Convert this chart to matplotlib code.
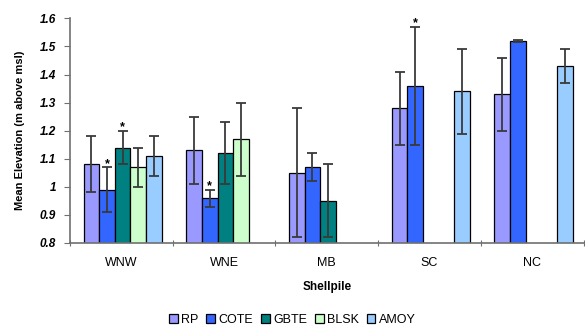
import matplotlib.pyplot as plt
import numpy as np

plt.rcParams['font.family'] = ['Liberation Sans', 'DejaVu Sans']

shellpiles = ["WNW", "WNE", "MB", "SC", "NC"]
species = ["RP", "COTE", "GBTE", "BLSK", "AMOY"]
colors = ["#9999FF", "#3366FF", "#008080", "#CCFFCC", "#99CCFF"]

nan = np.nan
# mean elevation per species, one value per shellpile
means = {
    "RP":   [1.08, 1.13, 1.05, 1.28, 1.33],
    "COTE": [0.99, 0.96, 1.07, 1.36, 1.52],
    "GBTE": [1.14, 1.12, 0.95, nan, nan],
    "BLSK": [1.07, 1.17, nan, nan, nan],
    "AMOY": [1.11, nan, nan, 1.34, 1.43],
}
errors = {
    "RP":   [0.10, 0.12, 0.23, 0.13, 0.13],
    "COTE": [0.08, 0.03, 0.05, 0.21, 0.003],
    "GBTE": [0.06, 0.11, 0.13, nan, nan],
    "BLSK": [0.07, 0.13, nan, nan, nan],
    "AMOY": [0.07, nan, nan, 0.15, 0.06],
}
# significant differences marked with an asterisk: (shellpile index, species)
stars = [(0, "COTE"), (0, "GBTE"), (1, "COTE"), (3, "COTE")]

fig = plt.figure(figsize=(5.85, 3.29), dpi=100)
ax = fig.add_axes([0.1197, 0.2614, 0.878, 0.6826])

x = np.arange(len(shellpiles))
width = 0.152
for i, sp in enumerate(species):
    pos = x + (i - 2) * width + 0.012
    ax.bar(pos, means[sp], width, color=colors[i], edgecolor="black",
           linewidth=0.9, label=sp, zorder=2)
    ax.errorbar(pos, means[sp], yerr=errors[sp], fmt="none", ecolor="#3a3a3a",
                elinewidth=1.3, capsize=3.5, capthick=1.3, zorder=3)

for k, sp in stars:
    i = species.index(sp)
    top = means[sp][k] + errors[sp][k]
    ax.annotate("*", (x[k] + (i - 2) * width + 0.012, top), xytext=(0, -2),
                textcoords="offset points", ha="center", va="bottom",
                fontsize=9, fontweight="bold")

ax.set_xlim(-0.5, len(shellpiles) - 0.5)
ax.set_ylim(0.8, 1.6)
ax.set_yticks(np.arange(0.8, 1.61, 0.1))
ax.set_yticklabels(["0.8", "0.9", "1", "1.1", "1.2", "1.3", "1.4", "1.5", "1.6"],
                   fontsize=8.5, fontweight="bold", fontstyle="italic")
ax.set_xticks(np.arange(-0.5, len(shellpiles), 1.0))
ax.set_xticklabels([])
ax.set_xticks(x, minor=True)
ax.set_xticklabels(shellpiles, minor=True, fontsize=9)
ax.tick_params(axis="x", which="minor", length=0, pad=10)
ax.tick_params(axis="x", which="major", length=5, color="#707070", direction="inout")
ax.tick_params(axis="y", length=4, color="#707070", direction="out", pad=6)

for s in ["top", "right"]:
    ax.spines[s].set_visible(False)
for s in ["left", "bottom"]:
    ax.spines[s].set_color("#707070")
    ax.spines[s].set_linewidth(1.2)

ax.set_ylabel("Mean Elevation (m above msl)", fontsize=8, fontweight="bold")
ax.yaxis.set_label_coords(-0.087, 0.5)
ax.set_xlabel("Shellpile", fontsize=8.5, fontweight="bold", labelpad=9)

fig.legend(loc="center", bbox_to_anchor=(0.5, 0.027), ncol=5, frameon=False,
           fontsize=9, handlelength=0.7, handleheight=0.7, handletextpad=0.3,
           columnspacing=0.6, borderpad=0)

fig.savefig("out.png", dpi=100)
